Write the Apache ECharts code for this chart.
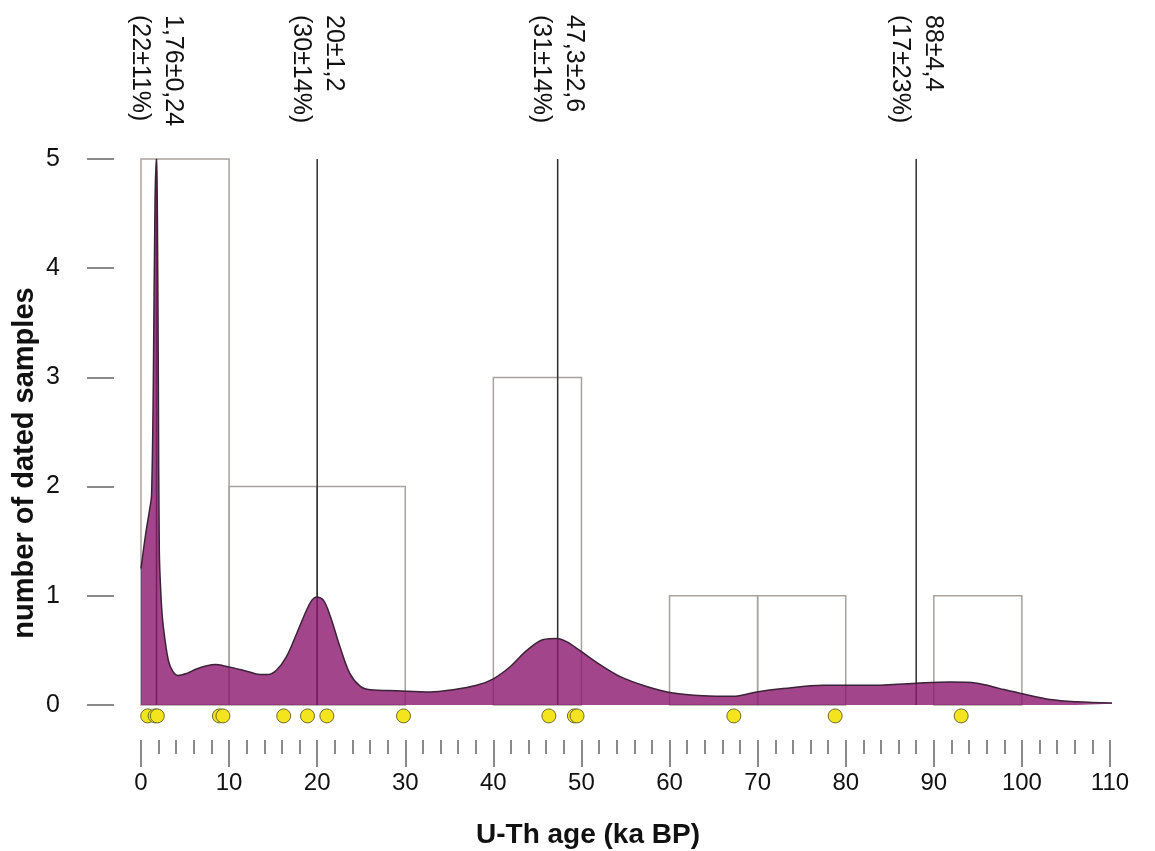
<!DOCTYPE html>
<html>
<head>
<meta charset="utf-8">
<script src="https://cdn.jsdelivr.net/npm/echarts@6/dist/echarts.min.js"></script>
<style>
html,body{margin:0;padding:0;background:#fff;}
#chart{width:1155px;height:851px;}
</style>
</head>
<body>
<div id="chart"></div>
<script>
// Histogram bins (ka BP) and counts
const binStarts = [0, 10, 20, 40, 60, 70, 90];
const binEnds   = [10, 20, 30, 50, 70, 80, 100];
const binCounts = [5, 2, 2, 3, 1, 1, 1];

// Peak ages and their labels
const peakAges   = [1.76, 20, 47.3, 88];
const peakLabels = ['1,76±0,24', '20±1,2', '47,3±2,6', '88±4,4'];
const peakShares = ['(22±11%)', '(30±14%)', '(31±14%)', '(17±23%)'];

// Individual dated samples (ka BP)
const sampleAges = [0.76, 1.6, 1.85, 8.9, 9.3, 16.2, 18.9, 21.1, 29.8, 46.3, 49.2, 49.5, 67.3, 78.8, 93.1];
const sampleRow = -0.1;

// Density curve
const densityAge = [0, 0.5, 1.0, 1.2, 1.4, 1.59, 1.76, 1.85, 1.97, 2.08, 2.3, 2.53, 3.1, 3.6, 4.2, 5.2, 6.3, 7.5, 8.5, 9.35,
  10.5, 12.0, 13.5, 14.45, 15.4, 16.5, 17.7, 18.8, 19.4, 19.9, 20.7, 21.5, 22.6, 23.7, 24.9, 26.0, 29.0, 32.8, 35.4, 38.1,
  40.0, 41.9, 43.8, 45.7, 47.2, 48.3, 49.8, 52.1, 54.4, 57.4, 60.4, 63.8, 67.2, 69.9, 72.9, 77.4, 82.4, 88.0, 91.8, 94.9,
  97.5, 100.2, 103.2, 106.2, 111.5];
const densityValue = [1.25, 1.55, 1.8, 1.92, 2.95, 4.6, 5.0, 4.6, 2.95, 1.4, 0.95, 0.72, 0.41, 0.31, 0.27, 0.29, 0.33, 0.36, 0.37, 0.36,
  0.34, 0.31, 0.28, 0.28, 0.32, 0.44, 0.66, 0.87, 0.96, 0.99, 0.96, 0.81, 0.53, 0.29, 0.17, 0.14, 0.13, 0.12, 0.14, 0.18,
  0.24, 0.35, 0.50, 0.60, 0.61, 0.58, 0.50, 0.37, 0.26, 0.17, 0.11, 0.085, 0.08, 0.12, 0.15, 0.18, 0.18, 0.20, 0.21, 0.20,
  0.15, 0.10, 0.05, 0.03, 0.015];

const xTitle = 'U-Th age (ka BP)';
const yTitle = 'number of dated samples';

const FONT = '"Liberation Sans", Arial, Helvetica, sans-serif';
const chart = echarts.init(document.getElementById('chart'), null, {renderer: 'canvas'});

const histData = binStarts.map((s, i) => [s, binEnds[i], binCounts[i]]);
const densityData = densityAge.map((a, i) => [a, densityValue[i]]);
const sampleData = sampleAges.map(a => [a, sampleRow]);
const peakData = peakAges.map(a => [a, 5]);

const tickStyle = {color: '#8a8a8a', width: 2};
const option = {
  backgroundColor: '#fff',
  animation: false,
  grid: [
    {left: 141, right: 45, top: 159, bottom: 146, containLabel: false, outerBoundsMode: 'none'},
    {left: 141, right: 45, top: 739, height: 1, containLabel: false, outerBoundsMode: 'none'},
    {left: 114, width: 1, top: 159, bottom: 146, containLabel: false, outerBoundsMode: 'none'}
  ],
  xAxis: [
    {gridIndex: 0, type: 'value', min: 0, max: 110, show: false},
    {
      gridIndex: 1, type: 'value', min: 0, max: 110, interval: 10, position: 'bottom',
      axisLine: {show: false},
      axisTick: {show: true, length: 27, lineStyle: tickStyle},
      minorTick: {show: true, splitNumber: 5, length: 14, lineStyle: tickStyle},
      splitLine: {show: false},
      axisLabel: {margin: 31, fontSize: 24, color: '#111', fontFamily: FONT}
    },
    {gridIndex: 2, type: 'value', min: 0, max: 1, show: false}
  ],
  yAxis: [
    {gridIndex: 0, type: 'value', min: 0, max: 5, show: false},
    {gridIndex: 1, type: 'value', min: 0, max: 1, show: false},
    {
      gridIndex: 2, type: 'value', min: 0, max: 5, interval: 1, position: 'left',
      axisLine: {show: false},
      axisTick: {show: true, length: 27, lineStyle: tickStyle},
      splitLine: {show: false},
      axisLabel: {margin: 54, fontSize: 25, color: '#111', fontFamily: FONT}
    }
  ],
  graphic: [
    {type: 'text', x: 25, y: 463, rotation: Math.PI / 2,
     style: {text: yTitle, font: 'bold 29px ' + FONT, fill: '#111', align: 'center', verticalAlign: 'middle'}},
    {type: 'text', x: 588, y: 835,
     style: {text: xTitle, font: 'bold 28px ' + FONT, fill: '#111', align: 'center', verticalAlign: 'middle'}}
  ],
  series: [
    {
      type: 'custom', z: 1, xAxisIndex: 0, yAxisIndex: 0, data: histData, encode: {x: [0, 1], y: 2},
      renderItem: function (params, api) {
        const p0 = api.coord([api.value(0), api.value(2)]);
        const p1 = api.coord([api.value(1), 0]);
        return {type: 'rect', shape: {x: p0[0], y: p0[1], width: p1[0] - p0[0], height: p1[1] - p0[1]},
          style: {fill: null, stroke: '#a9a39f', lineWidth: 1.5}};
      }
    },
    {
      type: 'custom', z: 2, xAxisIndex: 0, yAxisIndex: 0, data: peakData, encode: {x: 0, y: 1},
      renderItem: function (params, api) {
        const a = api.value(0);
        const top = api.coord([a, api.value(1)]);
        const bot = api.coord([a, 0]);
        const i = params.dataIndex;
        return {type: 'group', children: [
          {type: 'line', shape: {x1: top[0], y1: top[1], x2: bot[0], y2: bot[1]},
           style: {stroke: '#2e2e2e', lineWidth: 1.5}},
          {type: 'text', x: top[0], y: 15, rotation: -Math.PI / 2,
           style: {text: peakLabels[i] + '\n' + peakShares[i], fontSize: 25, fontFamily: FONT, fill: '#111',
                   align: 'left', verticalAlign: 'middle', lineHeight: 33}}
        ]};
      }
    },
    {
      type: 'line', z: 3, xAxisIndex: 0, yAxisIndex: 0, data: densityData, symbol: 'none',
      smooth: 0.35, clip: false,
      lineStyle: {color: '#3b2236', width: 1.5},
      areaStyle: {color: 'rgb(140,22,110)', opacity: 0.8, origin: 'start'}
    },
    {
      type: 'scatter', z: 4, xAxisIndex: 0, yAxisIndex: 0, data: sampleData, symbolSize: 14, clip: false,
      itemStyle: {color: '#f3e41e', borderColor: '#6d6a2c', borderWidth: 1, opacity: 1}
    }
  ]
};
chart.setOption(option);
</script>
</body>
</html>
